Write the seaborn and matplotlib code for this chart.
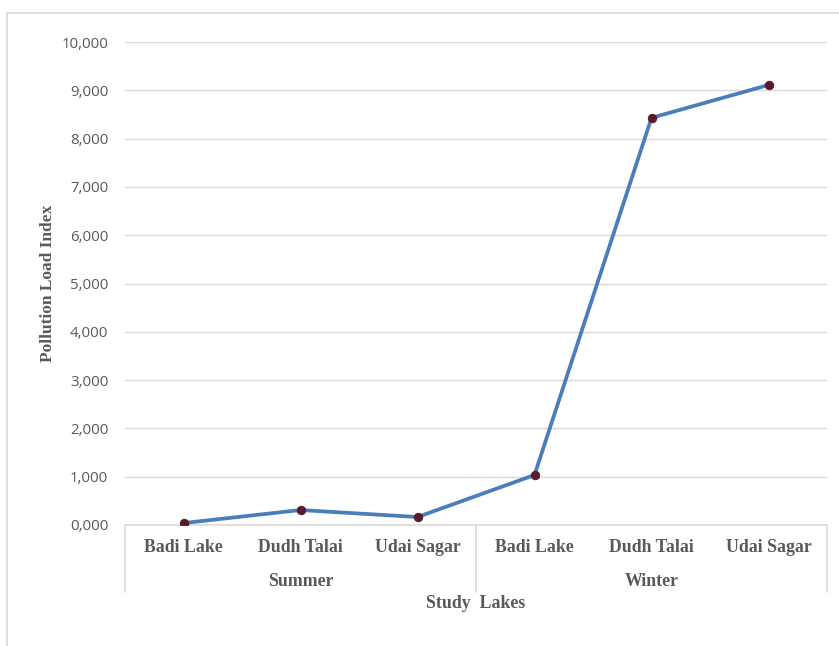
import matplotlib
matplotlib.use("Agg")
import matplotlib.pyplot as plt
from matplotlib.lines import Line2D
import matplotlib.transforms as mtransforms
import seaborn as sns
import pandas as pd

# Pollution load index per lake and season
seasons = ["Summer", "Winter"]
lakes = ["Badi Lake", "Dudh Talai", "Udai Sagar"]
pli_summer = [40, 310, 165]
pli_winter = [1035, 8430, 9110]
ytick_values = [0, 1000, 2000, 3000, 4000, 5000, 6000, 7000, 8000, 9000, 10000]
ytick_labels = ["0,000", "1,000", "2,000", "3,000", "4,000", "5,000",
                "6,000", "7,000", "8,000", "9,000", "10,000"]

rows = []
for s, vals in zip(seasons, [pli_summer, pli_winter]):
    for lake, v in zip(lakes, vals):
        rows.append({"season": s, "lake": lake, "pli": v})
df = pd.DataFrame(rows)
df["pos"] = range(len(df))

sns.set_theme(style="white")
plt.rcParams["font.family"] = ["Liberation Sans", "DejaVu Sans"]

W, H = 839, 646
fig = plt.figure(figsize=(W / 100, H / 100), dpi=100)
left, right, top, bottom = 125, 827, 42, 525
ax = fig.add_axes([left / W, 1 - bottom / H, (right - left) / W, (bottom - top) / H])

grid_c = "#D9D9D9"
text_c = "#595959"

sns.lineplot(data=df, x="pos", y="pli", ax=ax, color="#4A7EBB", linewidth=2.7,
             marker="o", markersize=6, markerfacecolor="#5A1A2C",
             markeredgecolor="#5A1A2C", zorder=3)

ax.set_xlim(-0.5, len(df) - 0.5)
ax.set_ylim(0, 10000)
ax.set_yticks(ytick_values)
ax.set_yticklabels(ytick_labels, color=text_c, fontsize=10.8,
                   family=["Open Sans", "DejaVu Sans"])
ax.tick_params(axis="y", length=0, pad=12)
ax.yaxis.grid(True, color=grid_c, linewidth=1)
ax.set_axisbelow(True)

for side in ["top", "right", "left"]:
    ax.spines[side].set_visible(False)
ax.spines["bottom"].set_color(grid_c)
ax.spines["bottom"].set_linewidth(1.2)

ax.set_xticks([])
ax.set_xlabel("")
ax.set_ylabel("Pollution Load Index", fontsize=12.5, fontweight="bold",
              family="Liberation Serif", color=text_c)
ax.yaxis.set_label_coords((56 - left) / (right - left), 0.5)

serif = dict(family="Liberation Serif", fontweight="bold", color=text_c)
trans = mtransforms.blended_transform_factory(ax.transData, ax.transAxes)
h_ax = (bottom - top)

for p, lake in zip(df["pos"], df["lake"]):
    ax.text(p, -(548 - bottom) / h_ax, lake, transform=trans, ha="center",
            va="center", fontsize=12.8, **serif)

for i, s in enumerate(seasons):
    ax.text(i * 3 + 1, -(581 - bottom) / h_ax, s, transform=trans, ha="center",
            va="center", fontsize=12.8, **serif)

# Group separators below the axis
for xv in [-0.5, 2.5, 5.5]:
    ax.add_line(Line2D([xv, xv], [0, -(592 - bottom) / h_ax], transform=trans,
                       color=grid_c, linewidth=1.2, clip_on=False))

ax.text(2.5, -(604 - bottom) / h_ax, "Study  Lakes", transform=trans,
        ha="center", va="center", fontsize=12.8, **serif)

# Chart frame
fig.add_artist(Line2D([7 / W, 1], [1 - 13 / H, 1 - 13 / H], transform=fig.transFigure,
                      color="#D9D9D9", linewidth=1.2))
fig.add_artist(Line2D([7 / W, 7 / W], [0, 1 - 13 / H], transform=fig.transFigure,
                      color="#D9D9D9", linewidth=1.2))

fig.savefig("out.png", dpi=100, facecolor="white")
